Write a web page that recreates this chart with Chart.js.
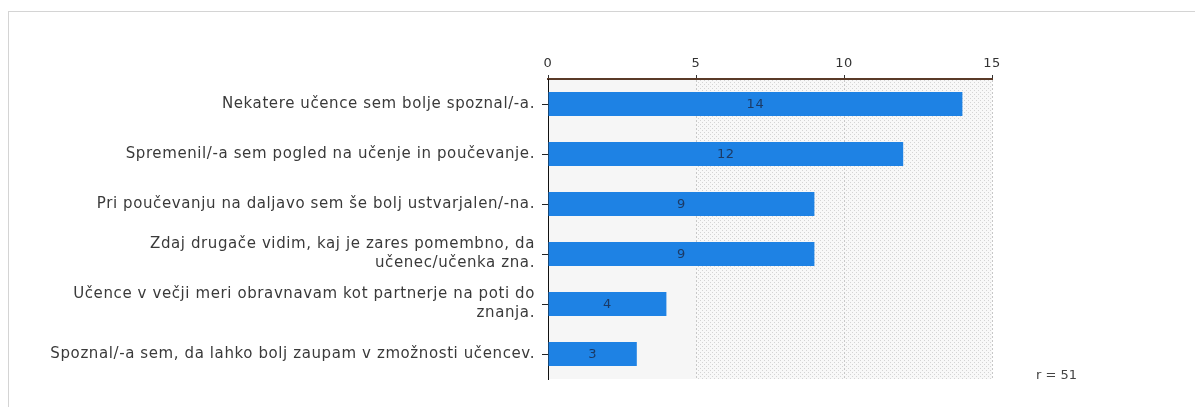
<!DOCTYPE html>
<html>
<head>
<meta charset="utf-8">
<script src="https://cdn.jsdelivr.net/npm/chart.js@4"></script>
<style>
  body { margin:0; background:#fff; overflow:hidden; }
  #frame { position:absolute; left:8px; top:11px; width:1200px; height:420px; border:1px solid #d4d4d4; }
  #wrap { position:absolute; left:0; top:0; width:1195px; height:407px; }
  #note { position:absolute; left:1036px; top:367px; font:13px "DejaVu Sans", sans-serif; color:#444; }
</style>
</head>
<body>
<div id="frame"></div>
<div id="wrap"><canvas id="bars"></canvas></div>
<div id="note">r = 51</div>
<script>
// data
var labels = [
  "Nekatere učence sem bolje spoznal/-a.",
  "Spremenil/-a sem pogled na učenje in poučevanje.",
  "Pri poučevanju na daljavo sem še bolj ustvarjalen/-na.",
  ["Zdaj drugače vidim, kaj je zares pomembno, da", "učenec/učenka zna."],
  ["Učence v večji meri obravnavam kot partnerje na poti do", "znanja."],
  "Spoznal/-a sem, da lahko bolj zaupam v zmožnosti učencev."
];
var counts = [14, 12, 9, 9, 4, 3];
var xTicks = [0, 5, 10, 15];

// the reference text is rather wide, so space the letters a bit
var spacingPlugin = {
  id: 'spacing',
  beforeUpdate: function(chart) { chart.ctx.letterSpacing = '0.6px'; },
  beforeDraw: function(chart) { chart.ctx.letterSpacing = '0.6px'; }
};

// plot background: plain on the left, dotted on the right
var bgPlugin = {
  id: 'bg',
  beforeDraw: function(chart) {
    var a = chart.chartArea, ctx = chart.ctx, x = chart.scales.x;
    var p = document.createElement('canvas');
    p.width = 4; p.height = 4;
    var pc = p.getContext('2d');
    pc.fillStyle = '#f8f8f8'; pc.fillRect(0, 0, 4, 4);
    pc.fillStyle = '#d4d4d4'; pc.fillRect(0, 0, 1, 1); pc.fillRect(2, 2, 1, 1);
    ctx.save();
    ctx.fillStyle = '#f6f6f6';
    ctx.fillRect(a.left, a.top, x.getPixelForValue(5) - a.left, a.bottom - a.top);
    ctx.fillStyle = ctx.createPattern(p, 'repeat');
    ctx.fillRect(x.getPixelForValue(5), a.top, a.right - x.getPixelForValue(5), a.bottom - a.top);
    ctx.restore();
  }
};

// numbers in the middle of each bar
var valuePlugin = {
  id: 'values',
  afterDatasetsDraw: function(chart) {
    var ctx = chart.ctx;
    ctx.save();
    ctx.font = '13px "DejaVu Sans", sans-serif';
    ctx.fillStyle = '#1b3a66';
    ctx.textAlign = 'center';
    ctx.textBaseline = 'middle';
    chart.getDatasetMeta(0).data.forEach(function(bar, i) {
      ctx.fillText(counts[i], (bar.x + bar.base) / 2, bar.y + 1);
    });
    ctx.restore();
  }
};

new Chart(document.getElementById('bars'), {
  type: 'bar',
  data: {
    labels: labels,
    datasets: [{
      data: counts,
      backgroundColor: '#1e82e4',
      barPercentage: 0.48,
      categoryPercentage: 1
    }]
  },
  options: {
    indexAxis: 'y',
    responsive: true,
    maintainAspectRatio: false,
    animation: false,
    layout: { padding: { left: 0, right: 203, top: 0, bottom: 28 } },
    plugins: { legend: { display: false }, tooltip: { enabled: false } },
    scales: {
      x: {
        position: 'top',
        min: 0, max: 15,
        afterBuildTicks: function(s) { s.ticks = xTicks.map(function(v) { return { value: v }; }); },
        afterFit: function(s) { s.height = 79; },
        ticks: { color: '#333', font: { family: 'DejaVu Sans', size: 13 }, padding: 4 },
        grid: { color: '#c8c8c8', tickLength: 4, tickColor: '#333' },
        border: { color: '#5a3a28', width: 2, dash: [2, 2] }
      },
      y: {
        afterFit: function(s) { s.width = 548; },
        ticks: { color: '#3a3a3a', font: { family: 'DejaVu Sans', size: 15, lineHeight: 1.27 }, padding: 7 },
        grid: { drawOnChartArea: false, offset: false, tickLength: 6, tickColor: '#222', tickWidth: 1 },
        border: { color: '#111', width: 1 }
      }
    }
  },
  plugins: [spacingPlugin, bgPlugin, valuePlugin]
});
</script>
</body>
</html>
